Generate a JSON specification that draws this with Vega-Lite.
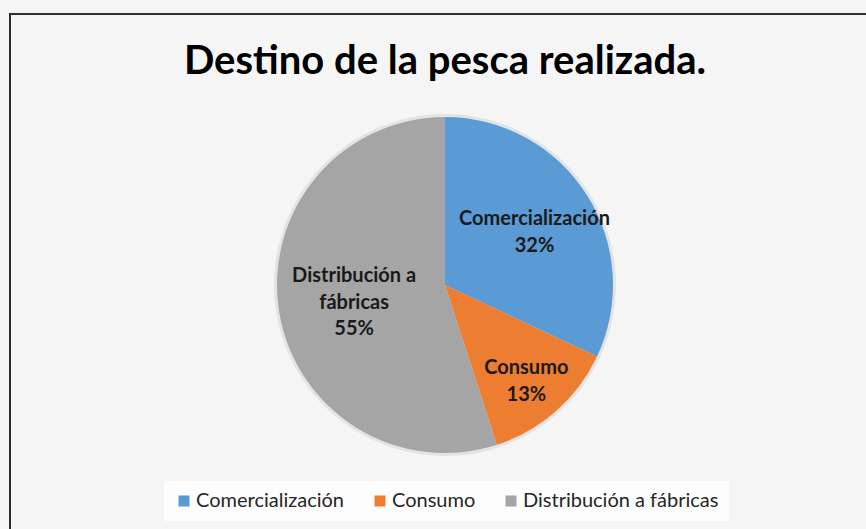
{
  "$schema": "https://vega.github.io/schema/vega-lite/v6.json",
  "width": 870,
  "height": 542,
  "autosize": {"type": "none"},
  "padding": {"left": 10, "top": 14, "right": -14, "bottom": -27},
  "background": "#f5f5f5",
  "view": {"stroke": "#2e2e2e", "strokeWidth": 2, "fill": "#f5f5f5"},
  "title": {
    "text": "Destino de la pesca realizada.",
    "font": "Lato",
    "fontSize": 40,
    "fontWeight": "bold",
    "color": "#000000",
    "anchor": "middle",
    "orient": "top",
    "offset": -100,
    "baseline": "alphabetic"
  },
  "data": {
    "values": [
      {"destino": "Comercialización", "porcentaje": 32, "etiqueta": ["Comercialización", "32%"]},
      {"destino": "Consumo", "porcentaje": 13, "etiqueta": ["Consumo", "13%"]},
      {"destino": "Distribución a fábricas", "porcentaje": 55, "etiqueta": ["Distribución a", "fábricas", "55%"]}
    ]
  },
  "encoding": {
    "theta": {"field": "porcentaje", "type": "quantitative", "stack": true}
  },
  "layer": [
    {
      "mark": {"type": "arc", "outerRadius": 171, "color": "#000000", "opacity": 0.07},
      "encoding": {
        "detail": {"field": "destino", "type": "nominal"}
      }
    },
    {
      "mark": {"type": "arc", "outerRadius": 168},
      "encoding": {
        "color": {
          "field": "destino",
          "type": "nominal",
          "scale": {
            "domain": ["Comercialización", "Consumo", "Distribución a fábricas"],
            "range": ["#5B9BD5", "#ED7D31", "#A5A5A5"]
          },
          "legend": {
            "orient": "none",
            "legendX": 154,
            "legendY": 467,
            "direction": "horizontal",
            "title": null,
            "symbolType": "square",
            "symbolSize": 121,
            "symbolStrokeWidth": 0,
            "labelFont": "Lato",
            "labelFontSize": 20,
            "labelColor": "#262626",
            "labelOffset": 2,
            "columnPadding": 25,
            "padding": 10,
            "fillColor": "#fdfdfd",
            "labelLimit": 400
          }
        }
      }
    },
    {
      "mark": {"type": "text", "font": "Lato", "fontSize": 20, "fontWeight": "bold", "color": "#1a1a1a", "lineHeight": 26.5, "align": "center", "baseline": "middle", "radius": 106, "dy": -9},
      "encoding": {
        "detail": {"field": "destino", "type": "nominal"},
        "text": {"condition": {"test": "datum.destino === 'Comercialización'", "field": "etiqueta"}, "value": ""}
      }
    },
    {
      "mark": {"type": "text", "font": "Lato", "fontSize": 20, "fontWeight": "bold", "color": "#1a1a1a", "lineHeight": 26.5, "align": "center", "baseline": "middle", "radius": 123, "dy": -9},
      "encoding": {
        "detail": {"field": "destino", "type": "nominal"},
        "text": {"condition": {"test": "datum.destino === 'Consumo'", "field": "etiqueta"}, "value": ""}
      }
    },
    {
      "mark": {"type": "text", "font": "Lato", "fontSize": 20, "fontWeight": "bold", "color": "#1a1a1a", "lineHeight": 26.5, "align": "center", "baseline": "middle", "radius": 92, "dy": -23},
      "encoding": {
        "detail": {"field": "destino", "type": "nominal"},
        "text": {"condition": {"test": "datum.destino === 'Distribución a fábricas'", "field": "etiqueta"}, "value": ""}
      }
    }
  ]
}
